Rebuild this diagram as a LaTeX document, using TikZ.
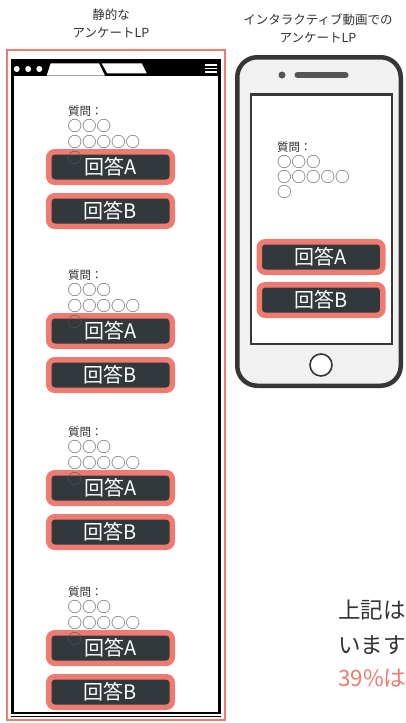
\documentclass[tikz,border=0pt]{standalone}
\usepackage{fontspec}
\setmainfont{Noto Sans CJK JP}
\definecolor{salmon}{HTML}{EE7A70}
\definecolor{btn}{HTML}{32393C}
\definecolor{ink}{HTML}{333333}
\definecolor{phonegray}{HTML}{F1F1F1}
\definecolor{frame}{HTML}{363636}
\definecolor{circ}{HTML}{555555}
\tikzset{
  answer/.style={draw=salmon, line width=5.5pt, fill=btn, rounded corners=6pt,
    minimum width=123.5pt, minimum height=30.5pt, inner sep=0pt, text=white,
    font=\fontsize{20}{20}\selectfont},
  qlabel/.style={anchor=west, inner sep=0pt, text=ink, font=\fontsize{11.5}{11.5}\selectfont},
  circles/.style={anchor=west, inner sep=0pt, text=circ, font=\fontsize{14.5}{14.5}\selectfont},
  title/.style={align=center, text=ink, font=\fontsize{12.5}{18}\selectfont},
  bigtext/.style={anchor=west, inner sep=0pt, font=\fontsize{22.5}{22.5}\selectfont},
}
\begin{document}
\begin{tikzpicture}[x=1pt,y=-1pt]
\useasboundingbox (0,0) rectangle (405,723);
\fill[white] (0,0) rectangle (405,723);
\begin{scope}
\clip (0,0) rectangle (405,723);
% titles
\node[title] (t1) at (111,23) {静的な\\アンケートLP};
\node[title] (t2) at (318,28) {インタラクティブ動画での\\アンケートLP};
% static page
\node[draw=salmon, line width=1.5pt, minimum width=218pt, minimum height=670pt, inner sep=0pt] (page) at (116,385) {};
\node[draw=black, line width=2.8pt, fill=white, minimum width=207.3pt, minimum height=653pt, inner sep=0pt] (browser) at (115.85,386.5) {};
\draw[black, line width=1pt] (11,716.5) -- (221,716.5);
\fill[black] (11,59) rectangle (220.7,75.7);
\fill[white] (46.7,75.7) -- (50.7,63.3) -- (99,63.3) -- (105,75.7) -- cycle;
\fill[white] (101.7,63.3) -- (141.7,63.3) -- (146.7,73.3) -- (107.3,73.3) -- cycle;
\foreach \i/\x in {1/16.7,2/28.2,3/39.3}
  \node[circle, fill=white, inner sep=0pt, minimum size=6pt] (dot\i) at (\x,69) {};
\foreach \i/\y in {1/65,2/68.5,3/72}
  \draw[white, line width=1.6pt] (204.5,\y) -- (216.5,\y);
% question blocks
\foreach \n/\t in {1/149,2/313,3/470,4/630}{
  \node[qlabel] (q\n) at (68,{\t-38}) {質問：};
  \node[circles] (ca\n) at (67.5,{\t-23}) {○○○};
  \node[circles] (cb\n) at (67.5,{\t-7}) {○○○○○};
  \node[answer] (a\n) at (110.5,{\t+18}) {回答A};
  \node[answer] (b\n) at (110.5,{\t+62}) {回答B};
  \node[circles] (cc\n) at (67.5,{\t+8.5}) {○};
}
% phone
\node[draw=frame, line width=4.5pt, fill=phonegray, rounded corners=20pt, minimum width=163.5pt, minimum height=328.5pt, inner sep=0pt] (phone) at (319,221.5) {};
\node[draw=frame, line width=2.5pt, fill=white, minimum width=141pt, minimum height=249.5pt, inner sep=0pt] (screen) at (321.5,219) {};
\node[circle, fill=circ, inner sep=0pt, minimum size=7pt] (cam) at (282,75) {};
\coordinate (spkL) at (297.5,75);
\coordinate (spkR) at (345.5,75);
\draw[circ, line width=6pt, line cap=round] (spkL) -- (spkR);
\node[circle, draw=frame, line width=1.6pt, fill=white, inner sep=0pt, minimum size=22pt] (home) at (321,365) {};
\node[qlabel] (pq) at (277,147) {質問：};
\node[circles] (pca) at (277,161.5) {○○○};
\node[circles] (pcb) at (277,176.5) {○○○○○};
\node[circles] (pcc) at (277,192) {○};
\node[answer] (pa) at (321,257) {回答A};
\node[answer] (pb) at (321,300) {回答B};
% text at right
\node[bigtext, text=ink] (r1) at (338,610) {上記は};
\node[bigtext, text=ink] (r2) at (338,645) {います};
\node[bigtext, text=salmon] (r3) at (338,678) {39\%は};
\end{scope}
\end{tikzpicture}
\end{document}
